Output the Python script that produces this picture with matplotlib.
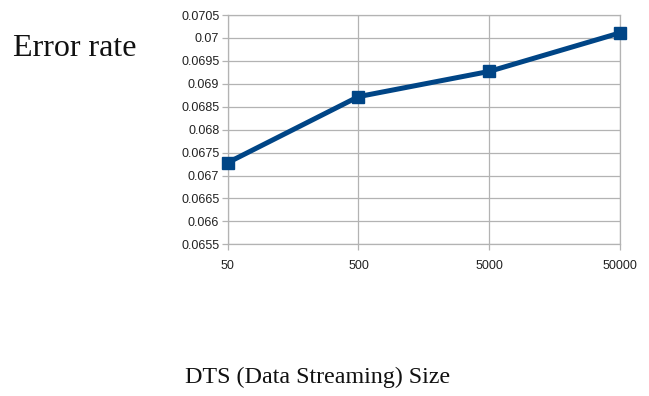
import matplotlib
matplotlib.use("Agg")
import matplotlib.pyplot as plt

categories = ["50", "500", "5000", "50000"]
error_rate = [0.06728, 0.06872, 0.06927, 0.07011]
yticks = [0.0655, 0.066, 0.0665, 0.067, 0.0675, 0.068, 0.0685, 0.069, 0.0695, 0.07, 0.0705]
ytick_labels = ["0.0655", "0.066", "0.0665", "0.067", "0.0675", "0.068", "0.0685",
                "0.069", "0.0695", "0.07", "0.0705"]

W, H = 649, 396
fig = plt.figure(figsize=(W / 100, H / 100), dpi=100)
ax = fig.add_axes([227.7 / W, 1 - 244.3 / H, (620 - 227.7) / W, (244.3 - 15) / H])

x = list(range(len(categories)))
ax.plot(x, error_rate, color="#004586", lw=3.6, marker="s", ms=8,
        markerfacecolor="#004586", markeredgecolor="#004586", zorder=3, clip_on=False)

ax.set_xlim(0, len(categories) - 1)
ax.set_ylim(0.0655, 0.0705)
ax.set_xticks(x)
ax.set_xticklabels(categories)
ax.set_yticks(yticks)
ax.set_yticklabels(ytick_labels)

grid_c = "#b3b3b3"
ax.grid(True, color=grid_c, lw=0.9)
ax.set_axisbelow(True)
for s in ["left", "bottom", "top", "right"]:
    ax.spines[s].set_color(grid_c)
    ax.spines[s].set_linewidth(0.9)
ax.tick_params(axis="both", colors=grid_c, length=4, width=0.9, labelcolor="#222222",
               labelsize=9)
for lab in ax.get_xticklabels() + ax.get_yticklabels():
    lab.set_family("Liberation Sans")
ax.tick_params(axis="y", pad=2)
ax.tick_params(axis="x", pad=7)

fig.text(13 / W, 1 - 56 / H, "Error rate", family="Liberation Serif", fontsize=23,
         ha="left", va="baseline", color="#111111")
fig.text(317.5 / W, 1 - 383.5 / H, "DTS (Data Streaming) Size", family="Liberation Serif",
         fontsize=17.3, ha="center", va="baseline", color="#111111")

fig.savefig("out.png", dpi=100)
